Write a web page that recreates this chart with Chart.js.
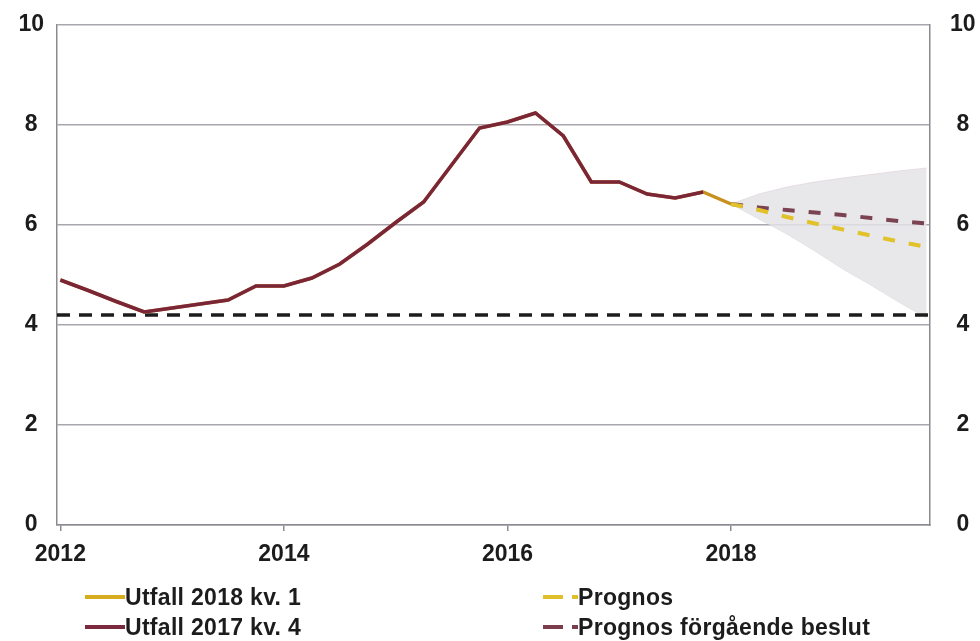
<!DOCTYPE html>
<html>
<head>
<meta charset="utf-8">
<script src="https://cdn.jsdelivr.net/npm/chart.js@4.4.1/dist/chart.umd.min.js"></script>
<style>
  html, body { margin: 0; padding: 0; background: #fff; }
  #wrap { position: relative; width: 980px; height: 641px; overflow: hidden; }
  #chart { position: absolute; left: 0; top: 0; }
  .leg { position: absolute; height: 30px; display: flex; align-items: center; white-space: nowrap;
         font: bold 23px "Liberation Sans", Arial, sans-serif; color: #1c1c1c; letter-spacing: 0.3px; }
  .leg svg { display: block; flex: none; }
</style>
</head>
<body>
<div id="wrap">
  <canvas id="chart" width="980" height="641"></canvas>
  <div class="leg" style="left:85px; top:582px;">
    <svg width="40" height="8"><line x1="0" y1="4" x2="40" y2="4" stroke="#d7ad1f" stroke-width="4"/></svg>Utfall 2018 kv. 1
  </div>
  <div class="leg" style="left:85px; top:612px;">
    <svg width="40" height="8"><line x1="0" y1="4" x2="40" y2="4" stroke="#7b2a3e" stroke-width="4"/></svg>Utfall 2017 kv. 4
  </div>
  <div class="leg" style="left:543px; top:582px;">
    <svg width="35" height="8"><line x1="0" y1="4" x2="35" y2="4" stroke="#e0bf2a" stroke-width="4" stroke-dasharray="20 9"/></svg>Prognos
  </div>
  <div class="leg" style="left:543px; top:612px;">
    <svg width="35" height="8"><line x1="0" y1="4" x2="35" y2="4" stroke="#7b3d4c" stroke-width="4" stroke-dasharray="20 9"/></svg>Prognos förgående beslut
  </div>
</div>
<script>
// quarters (outcome runs to 2018 K1, forecasts from 2018 K1)
const histQuarters = [
  '2012K1', '2012K2', '2012K3', '2012K4', '2013K1', '2013K2', '2013K3', '2013K4',
  '2014K1', '2014K2', '2014K3', '2014K4', '2015K1', '2015K2', '2015K3', '2015K4',
  '2016K1', '2016K2', '2016K3', '2016K4', '2017K1', '2017K2', '2017K3', '2017K4',
  '2018K1'
];
const fcQuarters = ['2018K1', '2018K2', '2018K3', '2018K4', '2019K1', '2019K2', '2019K3', '2019K4'];

const utfall2017 = [
  4.90, 4.69, 4.47, 4.26, 4.34, 4.42, 4.50, 4.78,
  4.78, 4.94, 5.22, 5.62, 6.05, 6.46, 7.20, 7.94,
  8.06, 8.24, 7.78, 6.86, 6.86, 6.62, 6.54, 6.66
];
const utfall2018 = [
  4.90, 4.69, 4.47, 4.26, 4.34, 4.42, 4.50, 4.78,
  4.78, 4.94, 5.22, 5.62, 6.05, 6.46, 7.20, 7.94,
  8.06, 8.24, 7.78, 6.86, 6.86, 6.62, 6.54, 6.66,
  6.42
];
const prognos      = [6.42, 6.30, 6.16, 6.03, 5.91, 5.79, 5.67, 5.56];
const prognosForeg = [6.42, 6.35, 6.30, 6.25, 6.20, 6.14, 6.08, 6.03];
const fanUpper     = [6.42, 6.62, 6.76, 6.86, 6.94, 7.01, 7.08, 7.14];
const fanLower     = [6.42, 6.12, 5.82, 5.48, 5.12, 4.80, 4.46, 4.14];
const refLevel = 4.2;

const xTicks = [2012, 2014, 2016, 2018];
const xMin = 2011.97;
const xMax = 2019.78;

const FONT = '"Liberation Sans", Arial, sans-serif';
const GRID = '#aaa6ae';
const AXIS = '#8c8a90';

function qToX(q) {
  return +q.slice(0, 4) + (+q.slice(5) - 1) / 4;
}
function pts(qs, vals) {
  return vals.map((v, i) => ({ x: qToX(qs[i]), y: v }));
}

// fixed axis boxes so the plot area sits where the original does
function fixY(width) {
  return s => { s.width = width; s.paddingTop = 0; s.paddingBottom = 0; };
}

const base = { pointRadius: 0, pointHoverRadius: 0, tension: 0, fill: false };

new Chart(document.getElementById('chart'), {
  type: 'line',
  data: {
    datasets: [
      {
        ...base,
        label: 'fan lower',
        data: pts(fcQuarters, fanLower),
        borderColor: 'rgba(200,196,200,0.5)',
        borderWidth: 1,
        order: 6
      },
      {
        ...base,
        label: 'fan upper',
        data: pts(fcQuarters, fanUpper),
        borderColor: 'rgba(215,200,208,0.5)',
        borderWidth: 1,
        backgroundColor: 'rgba(228,228,231,0.85)',
        fill: '-1',
        order: 5
      },
      {
        ...base,
        label: 'Nivå',
        data: [{ x: xMin, y: refLevel }, { x: xMax, y: refLevel }],
        borderColor: '#1c1c1e',
        borderWidth: 3.5,
        borderDash: [13, 9],
        order: 4
      },
      {
        ...base,
        label: 'Utfall 2018 kv. 1',
        data: pts(histQuarters, utfall2018),
        borderColor: '#c8901c',
        borderWidth: 3.5,
        order: 3
      },
      {
        ...base,
        label: 'Prognos förgående beslut',
        data: pts(fcQuarters, prognosForeg),
        borderColor: '#7b4351',
        borderWidth: 4,
        borderDash: [12, 14],
        order: 2
      },
      {
        ...base,
        label: 'Prognos',
        data: pts(fcQuarters, prognos),
        borderColor: '#e2c22a',
        borderWidth: 4,
        borderDash: [12, 14],
        order: 1
      },
      {
        ...base,
        label: 'Utfall 2017 kv. 4',
        data: pts(histQuarters, utfall2017),
        borderColor: '#7b2538',
        borderWidth: 3.5,
        order: 0
      }
    ]
  },
  options: {
    responsive: false,
    animation: false,
    layout: { padding: { top: 25, left: 0, right: 0, bottom: 0 } },
    plugins: {
      legend: { display: false },
      tooltip: { enabled: false }
    },
    scales: {
      x: {
        type: 'linear',
        min: xMin,
        max: xMax,
        afterBuildTicks: s => { s.ticks = xTicks.map(v => ({ value: v })); },
        afterFit: s => { s.height = 116; },
        ticks: {
          callback: v => String(v),
          font: { family: FONT, size: 23, weight: 'bold' },
          color: '#1c1c1c',
          padding: 10,
          maxRotation: 0
        },
        grid: { drawOnChartArea: false, drawTicks: true, tickLength: 6, color: AXIS, lineWidth: 1.5 },
        border: { color: AXIS, width: 1.5 }
      },
      y: {
        position: 'left',
        min: 0,
        max: 10,
        afterFit: fixY(57),
        ticks: {
          stepSize: 2,
          font: { family: FONT, size: 23, weight: 'bold' },
          color: '#1c1c1c',
          crossAlign: 'center',
          padding: 13
        },
        grid: { color: GRID, lineWidth: 1.5, drawTicks: false },
        border: { color: AXIS, width: 1.5 }
      },
      y2: {
        position: 'right',
        min: 0,
        max: 10,
        afterFit: fixY(50),
        ticks: {
          stepSize: 2,
          font: { family: FONT, size: 23, weight: 'bold' },
          color: '#1c1c1c',
          crossAlign: 'center',
          padding: 20
        },
        grid: { drawOnChartArea: false, drawTicks: false },
        border: { color: AXIS, width: 1.5 }
      }
    }
  }
});
</script>
</body>
</html>
